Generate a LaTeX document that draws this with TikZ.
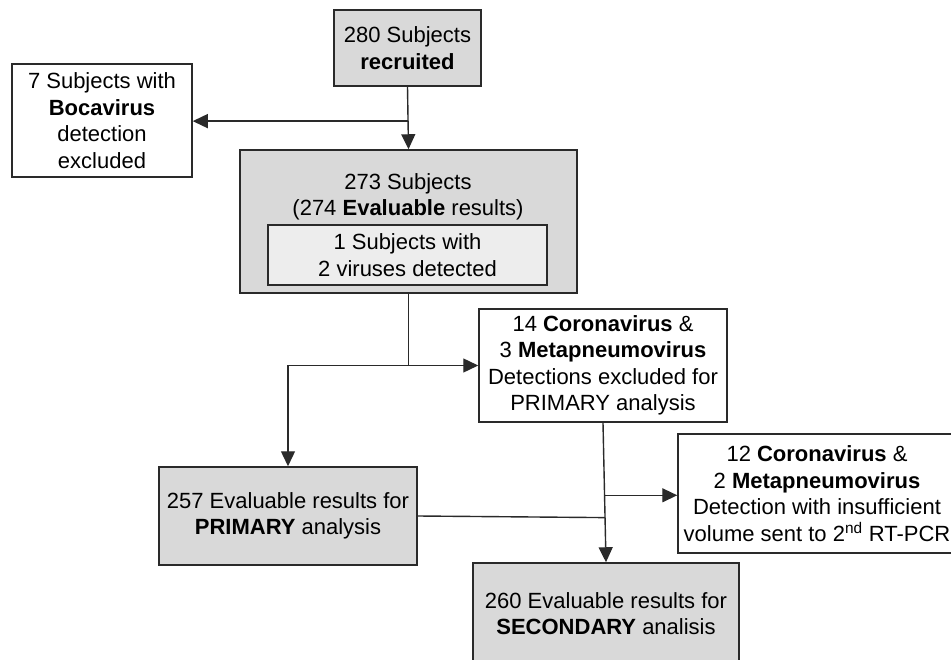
\documentclass[tikz,border=0pt]{standalone}
\usepackage{fontspec}
\setmainfont{Liberation Sans}
\usetikzlibrary{arrows.meta}
\usetikzlibrary{calc}
\usepackage{xcolor}

\definecolor{boxgray}{HTML}{D9D9D9}
\definecolor{innergray}{HTML}{EDEDED}
\definecolor{edgegray}{HTML}{2A2A2A}

\tikzset{
  flowbox/.style={draw=edgegray, line width=1.5pt, align=center, inner sep=0pt,
    font=\fontsize{22}{26.5}\selectfont},
  graybox/.style={flowbox, fill=boxgray},
  whitebox/.style={flowbox, fill=white},
  flowarrow/.style={line width=1.4pt, draw=edgegray, -{Triangle[length=15pt,width=14pt]}},
  flowline/.style={line width=1.4pt, draw=edgegray}
}

\begin{document}
\begin{tikzpicture}[x=1pt,y=-1pt]

        % Frame
        \useasboundingbox (0,0) rectangle (951,660);

        % Top boxes
        \node[graybox, minimum width=147pt, minimum height=76pt] (rec) at (407.5,48)
          {280 Subjects\\\textbf{recruited}};
        \node[whitebox, minimum width=180pt, minimum height=113pt] (boca) at (102,120.5)
          {7 Subjects with\\\textbf{Bocavirus}\\detection\\excluded};

        % Evaluable subjects
        \node[graybox, minimum width=337pt, minimum height=143pt] (subj) at (408.5,221.5) {};
        \node[flowbox, draw=none] (subjtxt) at (408,197)
          {273 Subjects\\(274 \textbf{Evaluable} results)};
        \node[flowbox, fill=innergray, minimum width=279pt, minimum height=60pt] (dual) at (407.5,255)
          {1 Subjects with\\2 viruses detected};

        % Exclusions
        \node[whitebox, minimum width=248pt, minimum height=113pt] (excl) at (603,365.5)
          {14 \textbf{Coronavirus} \&\\3 \textbf{Metapneumovirus}\\Detections excluded for\\PRIMARY analysis};
        \node[whitebox, minimum width=278pt, minimum height=119pt] (resend) at (817,493.5)
          {12 \textbf{Coronavirus} \&\\2 \textbf{Metapneumovirus}\\Detection with insufficient\\volume sent to 2\textsuperscript{nd} RT-PCR};

        % Results
        \node[graybox, minimum width=258pt, minimum height=98pt] (prim) at (288,516)
          {257 Evaluable results for\\\textbf{PRIMARY} analysis};
        \node[graybox, minimum width=266pt, minimum height=101pt] (sec) at (606,613.5)
          {260 Evaluable results for\\\textbf{SECONDARY} analisis};

        % Junctions
        \coordinate (j1) at ($(rec.south)!0.55!(subj.north)$);
        \coordinate (j2) at (subj.south |- excl.west);
        \coordinate (j3) at ($(excl.south)!0.52!(sec.north)$);
        \coordinate (j4) at ($(excl.south)!0.68!(sec.north)$);

        % Connectors
        \draw[flowarrow] (rec.south) -- (subj.north);
        \draw[flowarrow] (j1) -- (j1 -| boca.east);
        \draw[flowline] (subj.south) -- (j2);
        \draw[flowarrow] (j2) -| (prim.north);
        \draw[flowarrow] (j2) -- (excl.west);
        \draw[flowarrow] (excl.south) -- (sec.north);
        \draw[flowarrow] (j3) -- (j3 -| resend.west);
        \draw[flowline] (prim.east) -- (j4);

    \end{tikzpicture}
\end{document}
